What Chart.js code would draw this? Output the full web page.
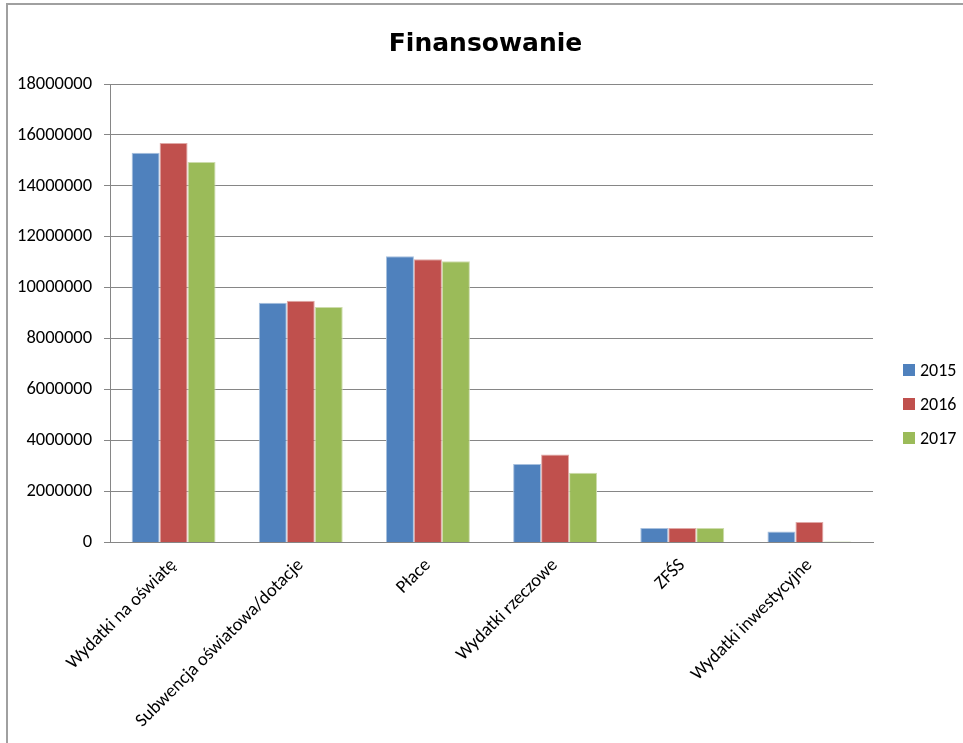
<!DOCTYPE html>
<html>
<head>
<meta charset="utf-8">
<script src="https://cdn.jsdelivr.net/npm/chart.js@4/dist/chart.umd.min.js"></script>
<style>
  body { margin: 0; background: #fff; }
  #box { position: absolute; left: 6px; top: 3px; width: 964px; height: 748px; border: 2px solid #a0a0a0; box-sizing: border-box; }
  #wrap { position: absolute; left: 0; top: 0; width: 960px; height: 744px; }
</style>
</head>
<body>
<div id="box"><div id="wrap"><canvas id="chart"></canvas></div></div>
<script>
const categories = ["Wydatki na oświatę", "Subwencja oświatowa/dotacje", "Płace", "Wydatki rzeczowe", "ZFŚS", "Wydatki inwestycyjne"];
const years = ["2015", "2016", "2017"];
const values2015 = [15300000, 9410000, 11240000, 3090000, 570000, 440000];
const values2016 = [15680000, 9490000, 11120000, 3460000, 570000, 810000];
const values2017 = [14940000, 9250000, 11040000, 2740000, 570000, 40000];
const yTicks = [0, 2000000, 4000000, 6000000, 8000000, 10000000, 12000000, 14000000, 16000000, 18000000];

const fontFamily = "Carlito, Calibri, 'Liberation Sans', sans-serif";
Chart.defaults.font.family = fontFamily;
Chart.defaults.color = "#000";

// legenda rysowana ręcznie po prawej stronie
const sideLegend = {
    id: "sideLegend",
    afterDraw(chart) {
        const c = chart.ctx;
        const x = chart.width - 65;
        const yStart = 365;
        c.save();
        c.font = "18px " + fontFamily;
        c.textBaseline = "middle";
        chart.data.datasets.forEach((ds, i) => {
            const y = yStart + i * 34;
            c.fillStyle = ds.backgroundColor;
            c.fillRect(x, y - 6, 12, 12);
            c.fillStyle = "#000";
            c.fillText(ds.label, x + 17, y + 1);
        });
        c.restore();
    },
};

const ctx = document.getElementById("chart");

new Chart(ctx, {
    type: "bar",
    data: {
        labels: categories,
        datasets: [
            { label: years[0], data: values2015, backgroundColor: "#4F81BD", borderColor: "#a7c0de", borderWidth: 1 },
            { label: years[1], data: values2016, backgroundColor: "#C0504D", borderColor: "#e0a8a6", borderWidth: 1 },
            { label: years[2], data: values2017, backgroundColor: "#9BBB59", borderColor: "#cddcac", borderWidth: 1 },
        ],
    },
    options: {
        responsive: true,
        maintainAspectRatio: false,
        animation: false,
        layout: { padding: { left: -3, right: 2, top: 14, bottom: 13 } },
        datasets: { bar: { categoryPercentage: 0.66, barPercentage: 1.0 } },
        scales: {
            x: {
                grid: { display: false },
                border: { color: "#868686", width: 1 },
                ticks: {
                    maxRotation: 45,
                    minRotation: 45,
                    font: { size: 18.5 },
                    padding: 4,
                },
            },
            y: {
                min: 0,
                max: 18000000,
                afterBuildTicks: (axis) => { axis.ticks = yTicks.map((v) => ({ value: v })); },
                grid: { color: "#868686", tickLength: 6 },
                border: { color: "#868686", width: 1 },
                ticks: {
                    font: { size: 18.5 },
                    padding: 12,
                    callback: (v) => String(v),
                },
            },
            // pusta oś po prawej, zostawia miejsce na legendę
            spacer: {
                position: "right",
                display: true,
                grid: { display: false, drawTicks: false },
                border: { display: false },
                ticks: { display: false },
                afterFit: (scale) => { scale.width = 93; },
            },
        },
        plugins: {
            title: {
                display: true,
                text: "Finansowanie",
                font: { family: "'DejaVu Sans', sans-serif", size: 25, weight: "bold" },
                padding: { top: 10, bottom: 25 },
            },
            legend: { display: false },
            tooltip: { enabled: false },
        },
    },
    plugins: [sideLegend],
});
</script>
</body>
</html>
